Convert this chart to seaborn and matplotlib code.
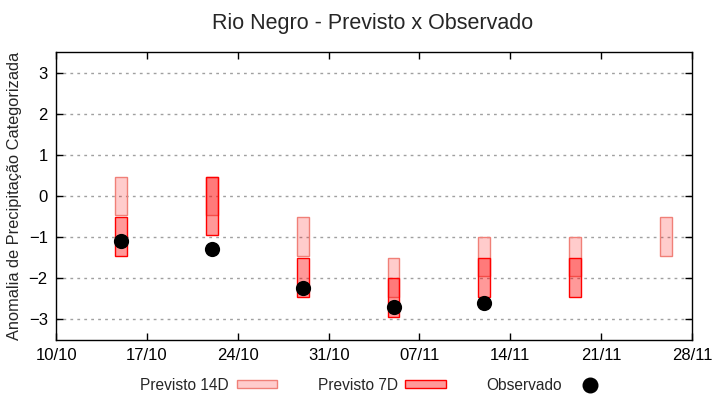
import matplotlib
matplotlib.use('Agg')
import matplotlib.dates as mdates
import matplotlib.pyplot as plt
import numpy as np
import pandas as pd
import seaborn as sns
from matplotlib.lines import Line2D
from matplotlib.patches import Patch

dates = ['2023-10-15', '2023-10-22', '2023-10-29', '2023-11-05',
         '2023-11-12', '2023-11-19', '2023-11-26']

# forecast ranges (top, bottom) of each box
prev14_top = [0.45, 0.45, -0.5, -1.5, -1.0, -1.0, -0.5]
prev14_bot = [-0.45, -0.45, -1.45, -2.45, -1.95, -1.95, -1.45]
prev7_top = [-0.5, 0.45, -1.5, -2.0, -1.5, -1.5, np.nan]
prev7_bot = [-1.45, -0.95, -2.45, -2.95, -2.45, -2.45, np.nan]
observado = [-1.1, -1.3, -2.23, -2.7, -2.61, np.nan, np.nan]

df = pd.DataFrame({
    'data': pd.to_datetime(dates),
    'p14_top': prev14_top, 'p14_bot': prev14_bot,
    'p7_top': prev7_top, 'p7_bot': prev7_bot,
    'obs': observado,
})

sns.set_style('ticks')
plt.rcParams['font.family'] = ['Liberation Sans', 'DejaVu Sans']

fig, ax = plt.subplots(figsize=(7.2, 4.0), dpi=100)
fig.subplots_adjust(left=0.078, right=0.961, top=0.87, bottom=0.15)

ax.yaxis.grid(True, color='#a0a0a0', linestyle=(0, (2, 3)), linewidth=1)
ax.set_axisbelow(True)

c14_face = (1, 0, 0, 0.2)
c14_edge = '#f08078'
c7_face = (1, 0, 0, 0.4)
c7_edge = '#ff0000'

ax.bar(df['data'], df['p14_top'] - df['p14_bot'], bottom=df['p14_bot'], width=0.9,
       color=c14_face, edgecolor=c14_edge, linewidth=1.0, zorder=2)
ax.bar(df['data'], df['p7_top'] - df['p7_bot'], bottom=df['p7_bot'], width=0.9,
       color=c7_face, edgecolor=c7_edge, linewidth=1.0, zorder=3)

sns.scatterplot(x='data', y='obs', data=df.dropna(subset=['obs']), ax=ax, color='black',
                s=120, edgecolor='black', linewidth=0, zorder=4, legend=False)

ax.set_xlim(pd.Timestamp('2023-10-10'), pd.Timestamp('2023-11-28'))
ax.set_ylim(-3.5, 3.5)
ax.set_yticks(range(-3, 4))
ax.set_xticks(pd.date_range('2023-10-10', '2023-11-28', freq='7D'))
ax.xaxis.set_major_formatter(mdates.DateFormatter('%d/%m'))

ax.tick_params(direction='in', length=5, width=1, top=True, right=True,
               labelsize=12, colors='black', pad=6)
for s in ax.spines.values():
    s.set_color('black')
    s.set_linewidth(1)

ax.set_xlabel('')
ax.set_ylabel('Anomalia de Precipitação Categorizada', fontsize=11.8, labelpad=5)
fig.suptitle('Rio Negro - Previsto x Observado', fontsize=15.5, x=0.518, y=0.968)

handles = [
    Patch(facecolor=c14_face, edgecolor=c14_edge, linewidth=1.0),
    Patch(facecolor=c7_face, edgecolor=c7_edge, linewidth=1.0),
    Line2D([], [], marker='o', color='black', linestyle='', markersize=10.5),
]
labels = ['Previsto 14D', 'Previsto 7D', 'Observado']
fig.legend(handles, labels, loc='center', bbox_to_anchor=(0.521, 0.037), ncol=3,
           frameon=False, markerfirst=False, fontsize=11.2, handlelength=2.6,
           handleheight=0.45, handletextpad=0.5, columnspacing=2.6)

fig.savefig('out.png', dpi=100)
